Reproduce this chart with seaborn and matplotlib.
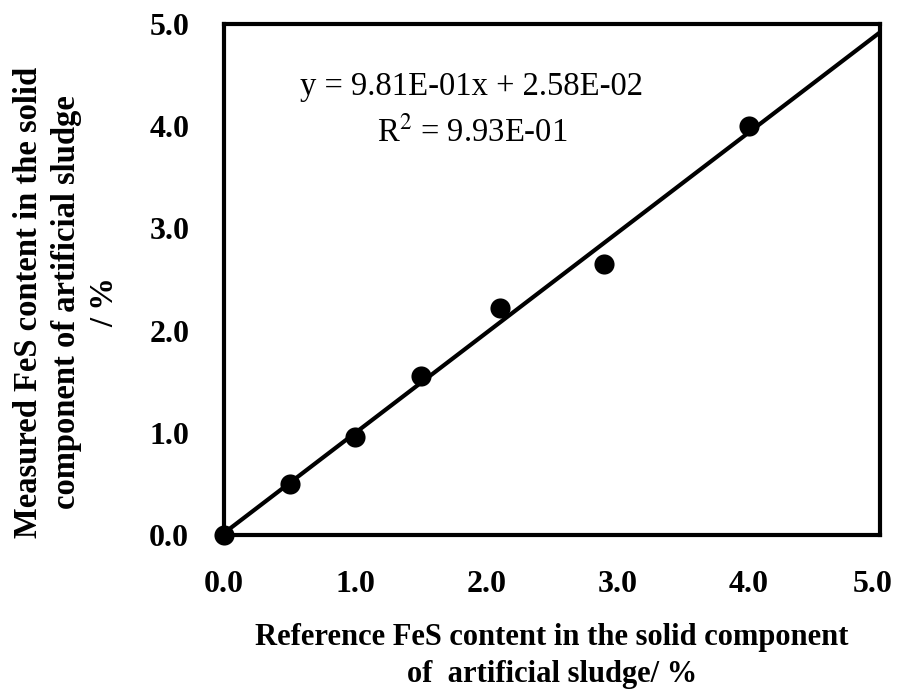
import matplotlib
matplotlib.use('Agg')
import matplotlib.pyplot as plt
import matplotlib.transforms as mtransforms
import seaborn as sns
import pandas as pd

# values
ref_fes = [0.0, 0.5, 1.0, 1.5, 2.1, 2.9, 4.0]
measured_fes = [0.0, 0.5, 0.96, 1.56, 2.22, 2.65, 4.0]
tick_values = [0.0, 1.0, 2.0, 3.0, 4.0, 5.0]
tick_labels = ['0.0', '1.0', '2.0', '3.0', '4.0', '5.0']
eq_text = 'y = 9.81E-01x + 2.58E-02'
r2_text = r'R$^2$ = 9.93E-01'

df = pd.DataFrame({'ref': ref_fes, 'measured': measured_fes})

sns.set_theme(style='white')
plt.rcParams['font.family'] = ['Liberation Serif', 'DejaVu Serif']
plt.rcParams['mathtext.fontset'] = 'stix'
plt.rcParams['text.color'] = 'black'
plt.rcParams['axes.labelcolor'] = 'black'
plt.rcParams['xtick.labelcolor'] = 'black'
plt.rcParams['ytick.labelcolor'] = 'black'

fig = plt.figure(figsize=(8.98, 6.89), dpi=100)
ax = fig.add_axes([0.2494, 0.2235, 0.7306, 0.7417])
ax.set_xlim(0, 5)
ax.set_ylim(0, 5)

# trendline + points (line spans the whole axis like an Excel trendline)
sns.regplot(data=df, x='ref', y='measured', ci=None, truncate=False, ax=ax,
            scatter_kws={'s': 210, 'color': 'black', 'alpha': 1, 'clip_on': False,
                         'zorder': 5, 'linewidths': 0},
            line_kws={'color': 'black', 'linewidth': 3})

ax.set_xticks(tick_values)
ax.set_xticklabels(tick_labels)
ax.set_yticks(tick_values)
ax.set_yticklabels(tick_labels)
ax.tick_params(axis='both', direction='in', length=7, width=1, color='#555555',
               labelsize=23, pad=25)
for lab in ax.get_xticklabels() + ax.get_yticklabels():
    lab.set_fontweight('bold')

# last x label sits a bit left so it stays inside the picture
last = ax.get_xticklabels()[-1]
last.set_transform(last.get_transform() +
                   mtransforms.ScaledTranslation(-0.07, 0, fig.dpi_scale_trans))

for s in ax.spines.values():
    s.set_linewidth(3)
    s.set_color('black')

ax.set_xlabel('Reference FeS content in the solid component\nof  artificial sludge/ %',
              fontsize=22, fontweight='bold', va='center', linespacing=1.35)
ax.xaxis.set_label_coords(0.5, -0.237)
ax.set_ylabel('Measured FeS content in the solid\ncomponent of artificial sludge\n/ %',
              fontsize=23.5, fontweight='bold', va='center', linespacing=1.3)
ax.yaxis.set_label_coords(-0.24, 0.455)

ax.text(0.378, 0.877, eq_text, transform=ax.transAxes, ha='center', va='center', fontsize=23.5)
ax.text(0.378, 0.789, r2_text, transform=ax.transAxes, ha='center', va='center', fontsize=23.5)

fig.savefig('out.png', dpi=100)
